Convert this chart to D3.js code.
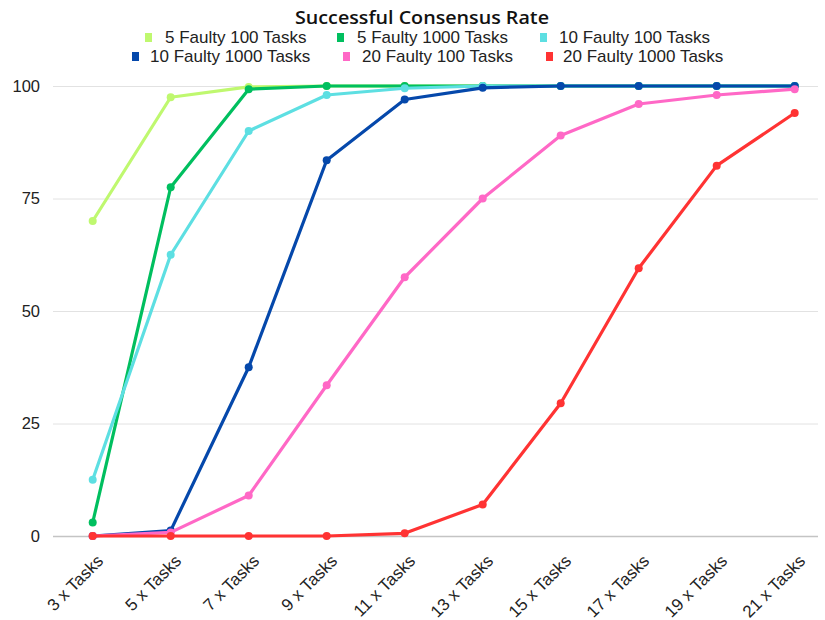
<!DOCTYPE html>
<html>
<head>
<meta charset="utf-8">
<script src="https://cdn.jsdelivr.net/npm/d3@7"></script>
<style>
  body { margin: 0; background: #fff; }
  svg { display: block; }
</style>
</head>
<body>
<div id="chart"></div>
<script>
// categories and series
var categories = ["3 x Tasks", "5 x Tasks", "7 x Tasks", "9 x Tasks", "11 x Tasks",
    "13 x Tasks", "15 x Tasks", "17 x Tasks", "19 x Tasks", "21 x Tasks"];
var yTicks = [0, 25, 50, 75, 100];

var seriesNames = ["5 Faulty 100 Tasks", "5 Faulty 1000 Tasks", "10 Faulty 100 Tasks",
    "10 Faulty 1000 Tasks", "20 Faulty 100 Tasks", "20 Faulty 1000 Tasks"];
var seriesColors = ["#bff86f", "#00bf5f", "#5ddfe2", "#0548ab", "#ff68c6", "#ff3333"];

var faulty5_100   = [70, 97.5, 99.8, 100, 100, 100, 100, 100, 100, 100];
var faulty5_1000  = [3, 77.5, 99.3, 100, 100, 100, 100, 100, 100, 100];
var faulty10_100  = [12.5, 62.5, 90, 98, 99.5, 100, 100, 100, 100, 100];
var faulty10_1000 = [0, 1.2, 37.5, 83.5, 97, 99.6, 100, 100, 100, 100];
var faulty20_100  = [0, 0.8, 9, 33.5, 57.5, 75, 89, 96, 98, 99.3];
var faulty20_1000 = [0, 0, 0, 0, 0.6, 7, 29.5, 59.5, 82.3, 94];

var seriesValues = [faulty5_100, faulty5_1000, faulty10_100, faulty10_1000, faulty20_100, faulty20_1000];

width = 825;
height = 620;

svg = d3.select("#chart").append("svg")
    .attr("width", width)
    .attr("height", height);

x = d3.scalePoint()
    .domain(categories)
    .range([92.7, 794.7]);

y = d3.scaleLinear()
    .domain([0, 100])
    .range([536, 86]);

// title
svg.append("text")
    .attr("x", 422)
    .attr("y", 24)
    .attr("text-anchor", "middle")
    .attr("textLength", 254)
    .attr("lengthAdjust", "spacingAndGlyphs")
    .style("font-family", "'Open Sans', sans-serif")
    .style("font-weight", "600")
    .style("font-size", "18px")
    .style("fill", "#111")
    .text("Successful Consensus Rate");

// legend, two rows of three
var legendPos = [
    {sx: 145, tx: 165, y: 43},
    {sx: 337, tx: 357, y: 43},
    {sx: 540, tx: 559, y: 43},
    {sx: 132, tx: 150, y: 62},
    {sx: 343, tx: 362, y: 62},
    {sx: 546, tx: 563, y: 62}
];

legend = svg.append("g");
seriesNames.forEach(function(name, i) {
    var p = legendPos[i];
    legend.append("rect")
        .attr("x", p.sx)
        .attr("y", p.y - 10)
        .attr("width", 7)
        .attr("height", 9)
        .style("fill", seriesColors[i]);
    legend.append("text")
        .attr("x", p.tx)
        .attr("y", p.y)
        .style("font-family", "'Liberation Sans', Arial, sans-serif")
        .style("font-size", "17px")
        .style("fill", "#222")
        .text(name);
});

// gridlines + y labels
grid = svg.append("g")
    .attr("transform", "translate(53,0)")
    .call(d3.axisLeft(y)
        .tickValues(yTicks)
        .tickSize(-765)
        .tickFormat(""));
grid.select(".domain").remove();
grid.selectAll(".tick line")
    .style("stroke", function(d) { return d === 0 ? "#c4c4c4" : "#e2e2e2"; })
    .style("stroke-width", function(d) { return d === 0 ? 1.6 : 1; });

yAxis = svg.append("g")
    .attr("transform", "translate(40,0)")
    .call(d3.axisLeft(y).tickValues(yTicks).tickSize(0).tickPadding(0));
yAxis.select(".domain").remove();
yAxis.selectAll("text")
    .style("font-family", "'Liberation Sans', Arial, sans-serif")
    .style("font-size", "16.5px")
    .style("fill", "#222");

// x labels
xAxis = svg.append("g")
    .attr("transform", "translate(0,548)")
    .call(d3.axisBottom(x).tickSize(0).tickPadding(0));
xAxis.select(".domain").remove();
xAxis.selectAll("text")
    .attr("text-anchor", "end")
    .attr("dy", "0")
    .attr("transform", "translate(11,14) rotate(-45)")
    .style("font-family", "'Liberation Sans', Arial, sans-serif")
    .style("font-size", "17px")
    .style("fill", "#222");

// lines and dots, later series on top
line = d3.line()
    .x(function(d, i) { return x(categories[i]); })
    .y(function(d) { return y(d); });

seriesValues.forEach(function(vals, s) {
    var g = svg.append("g");
    g.append("path")
        .datum(vals)
        .attr("d", line)
        .style("fill", "none")
        .style("stroke", seriesColors[s])
        .style("stroke-width", 3.2)
        .style("stroke-linejoin", "round");
    g.selectAll("circle")
        .data(vals)
        .enter().append("circle")
        .attr("cx", function(d, i) { return x(categories[i]); })
        .attr("cy", function(d) { return y(d); })
        .attr("r", 4)
        .style("fill", seriesColors[s]);
});
</script>
</body>
</html>
